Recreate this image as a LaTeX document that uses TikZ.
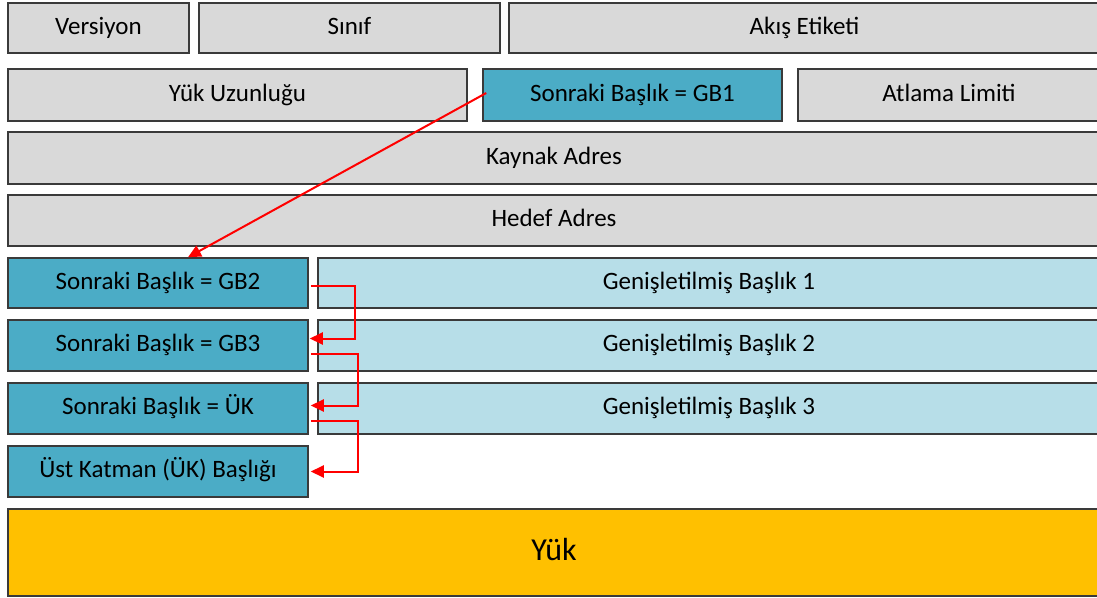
\documentclass[tikz,border=0pt]{standalone}
\usepackage{fontspec}
\setmainfont{Carlito}
\usetikzlibrary{arrows.meta}
\definecolor{boxgray}{HTML}{D9D9D9}
\definecolor{boxteal}{HTML}{4BACC6}
\definecolor{boxlight}{HTML}{B7DEE8}
\definecolor{boxgold}{HTML}{FFC000}
\definecolor{boxline}{HTML}{3A3A3A}
\begin{document}
\begin{tikzpicture}[x=1pt,y=-1pt,
	field/.style={draw=boxline,line width=1.5pt,inner sep=0pt,text height=17pt,text depth=5pt,font=\fontsize{25}{30}\selectfont},
	plain/.style={field,fill=boxgray},
	nexthdr/.style={field,fill=boxteal},
	exthdr/.style={field,fill=boxlight},
	link/.style={red,line width=2pt,-{Triangle[length=13pt,width=12pt]}}]
	\useasboundingbox (0,0) rectangle (1097,597);
	
	\node[plain,minimum width=181pt,minimum height=50pt] (ver) at (98.5,28) {Versiyon};
	\node[plain,minimum width=301pt,minimum height=50pt] (sinif) at (349.5,28) {Sınıf};
	\node[plain,minimum width=591pt,minimum height=50pt] (akis) at (804.5,28) {Akış Etiketi};
	
	\node[plain,minimum width=459pt,minimum height=52pt] (yukuz) at (237.5,95) {Yük Uzunluğu};
	\node[nexthdr,minimum width=299pt,minimum height=52pt] (gb1) at (632.5,95) {Sonraki Başlık = GB1};
	\node[plain,minimum width=302pt,minimum height=52pt] (atlama) at (949,95) {Atlama Limiti};
	
	\node[plain,minimum width=1092pt,minimum height=52pt] (kaynak) at (554,158) {Kaynak Adres};
	\node[plain,minimum width=1092pt,minimum height=51pt] (hedef) at (554,220.5) {Hedef Adres};
	
	\node[nexthdr,minimum width=300pt,minimum height=50pt] (gb2) at (158,283) {Sonraki Başlık = GB2};
	\node[exthdr,minimum width=782pt,minimum height=50pt] (ext1) at (709,283) {Genişletilmiş Başlık 1};
	\node[nexthdr,minimum width=300pt,minimum height=51pt] (gb3) at (158,345.5) {Sonraki Başlık = GB3};
	\node[exthdr,minimum width=782pt,minimum height=51pt] (ext2) at (709,345.5) {Genişletilmiş Başlık 2};
	\node[nexthdr,minimum width=300pt,minimum height=51pt] (uk) at (158,408.5) {Sonraki Başlık = ÜK};
	\node[exthdr,minimum width=782pt,minimum height=51pt] (ext3) at (709,408.5) {Genişletilmiş Başlık 3};
	\node[nexthdr,minimum width=300pt,minimum height=51pt] (ust) at (158,471.5) {Üst Katman (ÜK) Başlığı};
	
	\node[field,fill=boxgold,minimum width=1092pt,minimum height=87pt,text height=22pt,text depth=7pt,font=\fontsize{32}{38}\selectfont] (yuk) at (554,552.5) {Yük};
	
	% zincir
	\draw[link] ([xshift=4pt,yshift=2pt]gb1.west) -- ([xshift=30pt]gb2.north);
	\draw[link] ([xshift=2pt,yshift=-3pt]gb2.east) -- ++(44,0) |- ([xshift=1pt,yshift=7pt]gb3.east);
	\draw[link] ([xshift=2pt,yshift=-8pt]gb3.east) -- ++(47,0) |- ([xshift=2pt,yshift=3pt]uk.east);
	\draw[link] ([xshift=2pt,yshift=-12pt]uk.east) -- ++(47,0) |- ([xshift=2pt]ust.east);
\end{tikzpicture}
\end{document}
